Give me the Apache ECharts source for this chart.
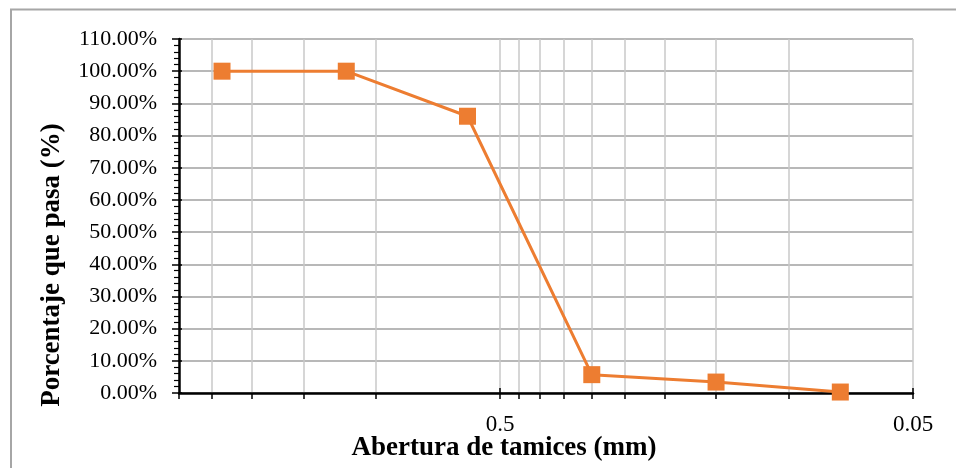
<!DOCTYPE html>
<html>
<head>
<meta charset="utf-8">
<title>Curva granulométrica</title>
<script src="https://cdn.jsdelivr.net/npm/echarts@6.0.0/dist/echarts.min.js"></script>
<style>
    html, body { margin: 0; padding: 0; background: #fff; }
    #chart { width: 956px; height: 468px; }
</style>
</head>
<body>
<div id="chart"></div>
<script>
// abertura de tamices (mm) y porcentaje que pasa (%)
const sizes = [2.36, 1.18, 0.6, 0.3, 0.15, 0.075]
const passing = [100, 100, 86, 5.7, 3.4, 0.3]

// lineas de division del eje log (minor) y etiquetas (major)
const xGridValues = [3, 2.5, 2, 1.5, 1, 0.5, 0.45, 0.4, 0.35, 0.3, 0.25, 0.2, 0.15, 0.1, 0.05]
const xLabelValues = [0.5, 0.05]

const yMin = 0
const yMax = 110
const yStep = 10

const font = 'Liberation Serif'

const myChart = echarts.init(document.getElementById('chart'))
myChart.setOption({
    animation: false,
    backgroundColor: '#fff',
    grid: { left: 179, right: 43, top: 39, bottom: 75 },
    xAxis: [{
        type: 'log',
        min: 0.05,
        max: 3,
        inverse: true,
        position: 'bottom',
        axisLine: { onZero: false, lineStyle: { color: '#000', width: 2.5 } },
        axisTick: { customValues: xGridValues, length: 6, lineStyle: { color: '#000', width: 1.5 } },
        splitLine: { show: true, lineStyle: { color: '#c8c8c8', width: 1.5 } },
        axisLabel: {
            customValues: xLabelValues,
            formatter: v => String(v),
            color: '#000',
            fontFamily: font,
            fontSize: 23,
            margin: 20
        }
    }, {
        // marcas principales hacia adentro
        type: 'log',
        min: 0.05,
        max: 3,
        inverse: true,
        position: 'bottom',
        axisLine: { show: false, onZero: false },
        axisTick: { customValues: xLabelValues, inside: true, length: 5, lineStyle: { color: '#000', width: 1.5 } },
        splitLine: { show: false },
        axisLabel: { show: false }
    }],
    yAxis: [{
        type: 'value',
        min: yMin,
        max: yMax,
        interval: yStep,
        axisLine: { show: true, lineStyle: { color: '#000', width: 2.5 } },
        axisTick: { show: true, length: 7, lineStyle: { color: '#000', width: 1.5 } },
        minorTick: { show: true, splitNumber: 5, length: 5, lineStyle: { color: '#000', width: 1.2 } },
        splitLine: { show: true, lineStyle: { color: '#a0a0a0', width: 1.5 } },
        axisLabel: {
            formatter: v => v.toFixed(2) + '%',
            color: '#000',
            fontFamily: font,
            fontSize: 22,
            margin: 22
        }
    }, {
        type: 'value',
        min: yMin,
        max: yMax,
        interval: yStep,
        position: 'left',
        axisLine: { show: false },
        axisTick: { show: true, inside: true, length: 3, lineStyle: { color: '#000', width: 1.5 } },
        splitLine: { show: false },
        axisLabel: { show: false }
    }],
    graphic: [{
        type: 'rect',
        z: -1,
        shape: { x: 11, y: 9.5, width: 1000, height: 500 },
        style: { fill: 'none', stroke: '#a6a6a6', lineWidth: 2 }
    }, {
        type: 'text',
        x: 504,
        y: 448,
        style: {
            text: 'Abertura de tamices (mm)',
            fontFamily: font,
            fontWeight: 'bold',
            fontSize: 27,
            fill: '#000',
            align: 'center',
            verticalAlign: 'middle'
        }
    }, {
        type: 'text',
        x: 52,
        y: 265,
        rotation: Math.PI / 2,
        style: {
            text: 'Porcentaje que pasa (%)',
            fontFamily: font,
            fontWeight: 'bold',
            fontSize: 27,
            fill: '#000',
            align: 'center',
            verticalAlign: 'middle'
        }
    }],
    series: [{
        type: 'line',
        xAxisIndex: 0,
        yAxisIndex: 0,
        data: sizes.map((s, i) => [s, passing[i]]),
        symbol: 'rect',
        symbolSize: 17,
        itemStyle: { color: '#ED7D31' },
        lineStyle: { color: '#ED7D31', width: 3 }
    }]
})
</script>
</body>
</html>
